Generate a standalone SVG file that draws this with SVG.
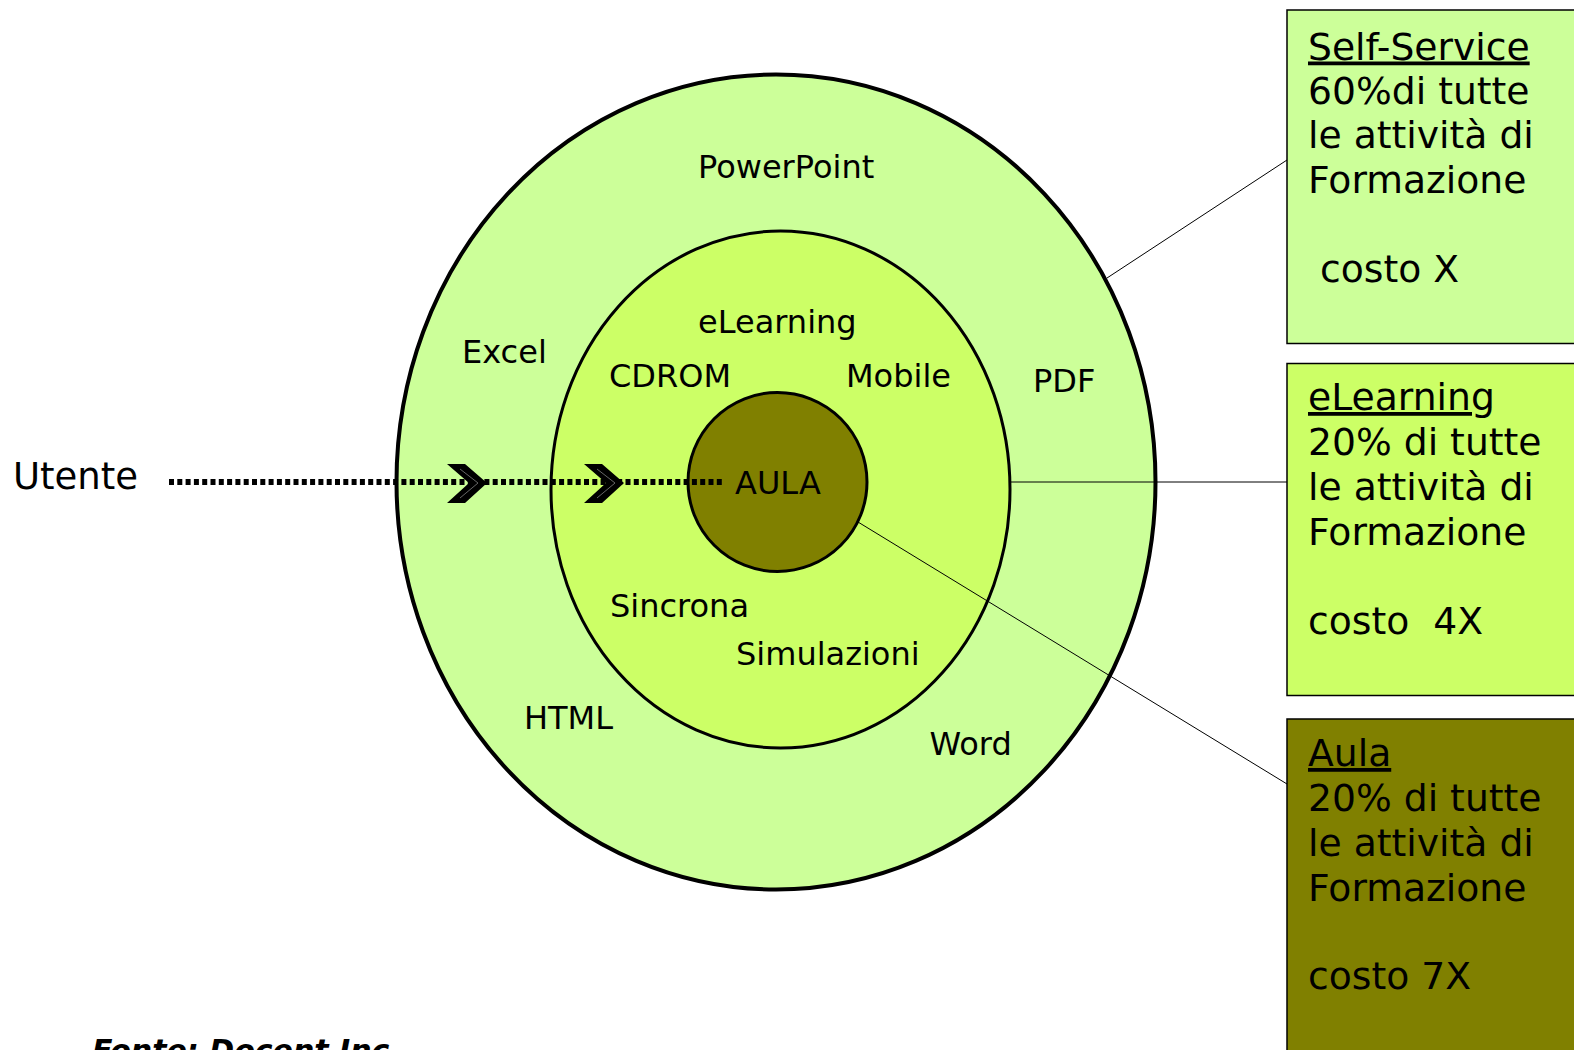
<svg xmlns="http://www.w3.org/2000/svg" width="1574" height="1050" viewBox="0 0 1574 1050">
  <style>
    text { font-family: "DejaVu Sans", Verdana, sans-serif; fill: #000; }
    .lbl { font-size: 32px; }
    .box { font-size: 37.7px; }
    .conn { stroke: #000; stroke-width: 1; fill: none; }
    .ring { stroke: #000; }
  </style>
  <rect x="0" y="0" width="1574" height="1050" fill="#fff"/>

  <g id="ring-outer">
    <ellipse class="ring" cx="776" cy="482" rx="379.5" ry="407.5" fill="#CCFF99" stroke-width="4"/>
  </g>
  <g id="ring-middle">
    <ellipse class="ring" cx="780.5" cy="489.5" rx="229.5" ry="258.5" fill="#CCFF66" stroke-width="3"/>
  </g>
  <g id="ring-inner">
    <circle class="ring" cx="777.5" cy="482" r="89.5" fill="#808000" stroke-width="3"/>
  </g>

  <g id="labels">
    <text class="lbl" x="698" y="178">PowerPoint</text>
    <text class="lbl" x="698" y="333">eLearning</text>
    <text class="lbl" x="462" y="363">Excel</text>
    <text class="lbl" x="609" y="386.5">CDROM</text>
    <text class="lbl" x="846" y="386.5">Mobile</text>
    <text class="lbl" x="1033" y="391.5">PDF</text>
    <text class="lbl" x="735" y="494">AULA</text>
    <text class="lbl" x="610" y="617">Sincrona</text>
    <text class="lbl" x="736" y="664.5">Simulazioni</text>
    <text class="lbl" x="524" y="729">HTML</text>
    <text class="lbl" x="929.5" y="755">Word</text>
  </g>

  <g id="utente">
    <text x="13" y="489" font-size="37">Utente</text>
  </g>

  <g id="connectors">
    <line class="conn" x1="1107" y1="278" x2="1287" y2="160"/>
    <line class="conn" x1="1010" y1="482" x2="1287" y2="482"/>
    <line class="conn" x1="858" y1="522" x2="1287" y2="784"/>
    <line x1="169" y1="482" x2="723" y2="482" stroke="#000" stroke-width="6" stroke-dasharray="5 3.3"/>
    <polygon points="447,464 465,464 487,483 465,503 447,503 469,483" fill="#000"/>
    <polyline points="460,469 478,483 460,498" fill="none" stroke="#666" stroke-width="1"/>
    <polygon points="584,464 602,464 624,483 602,503 584,503 606,483" fill="#000"/>
    <polyline points="597,469 615,483 597,498" fill="none" stroke="#666" stroke-width="1"/>
  </g>

  <g id="box-selfservice">
    <rect x="1287" y="10" width="300" height="333.5" fill="#CCFF99" stroke="#000" stroke-width="1.5"/>
    <text class="box" x="1308" y="59.5" text-decoration="underline">Self-Service</text>
    <text class="box" x="1308" y="104">60%di tutte</text>
    <text class="box" x="1308" y="148">le attività di</text>
    <text class="box" x="1308" y="193">Formazione</text>
    <text class="box" x="1308" y="281.5" xml:space="preserve"> costo X</text>
  </g>

  <g id="box-elearning">
    <rect x="1287" y="363.5" width="300" height="332" fill="#CCFF66" stroke="#000" stroke-width="1.5"/>
    <text class="box" x="1308" y="410" text-decoration="underline">eLearning</text>
    <text class="box" x="1308" y="455">20% di tutte</text>
    <text class="box" x="1308" y="499.5">le attività di</text>
    <text class="box" x="1308" y="544.5">Formazione</text>
    <text class="box" x="1308" y="634" xml:space="preserve">costo  4X</text>
  </g>

  <g id="box-aula">
    <rect x="1287" y="719" width="300" height="345" fill="#808000" stroke="#000" stroke-width="1.5"/>
    <text class="box" x="1308" y="766" text-decoration="underline">Aula</text>
    <text class="box" x="1308" y="811">20% di tutte</text>
    <text class="box" x="1308" y="855.5">le attività di</text>
    <text class="box" x="1308" y="900.5">Formazione</text>
    <text class="box" x="1308" y="989">costo 7X</text>
  </g>

  <g id="fonte">
    <text x="92" y="1061" font-size="30" font-weight="bold" font-style="italic">Fonte: Docent Inc.</text>
  </g>
</svg>
